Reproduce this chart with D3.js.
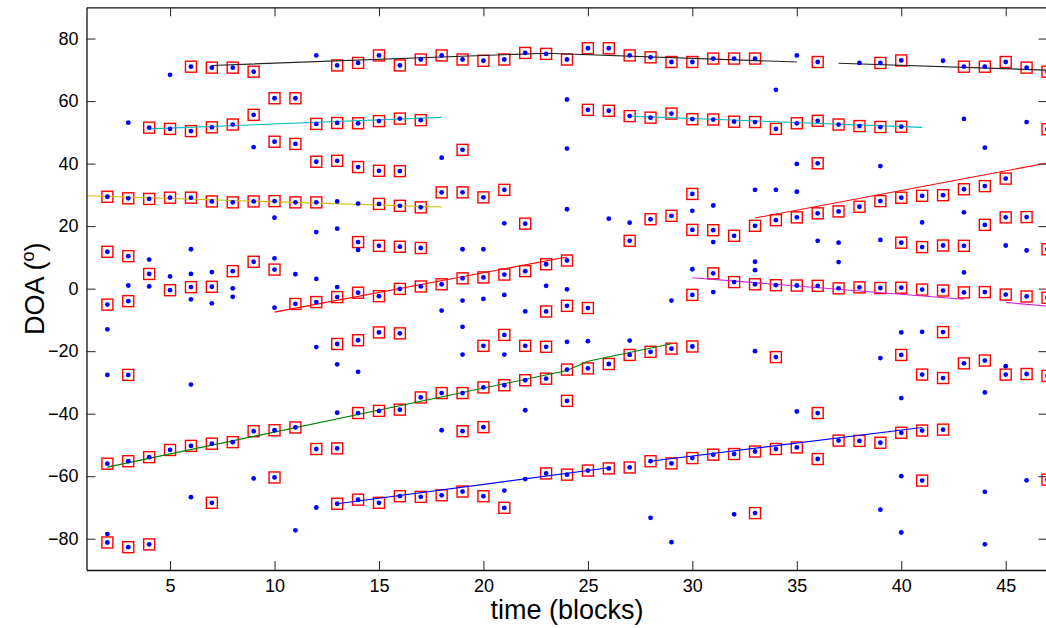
<!DOCTYPE html>
<html>
<head>
<meta charset="utf-8">
<script src="https://cdn.jsdelivr.net/npm/d3@7"></script>
<style>
body { margin: 0; background: #fff; }
svg { display: block; font-family: "Liberation Sans", Arial, sans-serif; }
</style>
</head>
<body>
<script>
// time blocks and the DOA estimates (degrees)
var timeBlocks = [2,3,4,5,6,7,8,9,10,11,12,13,14,15,16,17,18,19,20,21,22,23,24,25,26,27,28,29,30,31,32,33,34,35,36,37,38,39,40,41,42,43,44,45,46,47];

// estimates kept by the tracker (red square + blue dot)
var keptDOA = [
  [29.4, 11.8, -5.1, -56, -81.2],
  [28.9, 10.4, -4.0, -27.6, -55.2, -82.7],
  [51.5, 28.7, 4.7, -53.9, -81.8],
  [51.1, 29.1, -0.5, -51.6],
  [71.0, 50.4, 29.1, 0.5, -50.3],
  [70.7, 51.6, 27.9, 0.6, -49.6, -68.5],
  [70.7, 52.5, 27.6, 5.6, -49.1],
  [69.4, 55.6, 27.9, 8.6, -45.6],
  [60.9, 47.0, 28.0, 6.1, -45.3, -60.4],
  [60.9, 46.3, 27.6, -4.9, -44.4],
  [52.7, 40.6, 27.6, -4.3, -51.3],
  [71.4, 53.0, 40.9, -2.7, -17.7, -51.1, -68.8],
  [72.2, 52.9, 38.9, 14.9, -1.3, -16.5, -39.8, -67.5],
  [74.6, 53.6, 37.7, 27.1, 13.7, -2.4, -14.0, -39.1, -68.5],
  [71.4, 54.4, 37.6, 26.5, 13.4, -0.1, -14.3, -38.7, -66.4],
  [73.3, 53.9, 26.0, 13.0, 0.7, -34.8, -66.6],
  [74.6, 30.8, 1.4, -33.4, -66.1],
  [73.3, 44.4, 30.8, 3.3, -33.4, -45.6, -64.9],
  [72.9, 29.2, 3.6, -18.3, -31.6, -44.3, -66.4],
  [73.3, 31.6, 4.5, -14.8, -30.9, -70.1],
  [75.4, 20.8, 5.6, -18.3, -29.3],
  [75.1, 7.8, -7.3, -18.6, -28.8, -59.1],
  [73.3, 9.0, -5.5, -25.9, -35.9, -59.5],
  [76.9, 57.2, -6.2, -25.5, -58.2],
  [76.9, 56.9, -24.1, -57.5],
  [74.6, 55.2, 15.3, -21.2, -57.2],
  [74.0, 54.7, 22.2, -20.2, -55.2],
  [72.5, 56.0, 23.3, -19.2, -55.9],
  [72.5, 54.2, 30.3, 18.8, -2.0, -18.5, -54.2],
  [73.6, 54.1, 18.7, 4.9, -53.1],
  [73.6, 53.4, 16.9, 2.1, -52.9],
  [73.6, 53.3, 20.1, 1.4, -52.1, -71.8],
  [51.1, 21.9, 1.1, -21.9, -51.3],
  [52.9, 22.8, 1.0, -50.8],
  [72.5, 53.7, 40.1, 24.1, 0.9, -39.8, -54.5],
  [52.5, 24.7, 0.1, -48.6],
  [52.0, 26.2, 0.4, -48.7],
  [72.2, 51.7, 28.0, 0.2, -49.3],
  [73.0, 51.8, 29.1, 14.7, 0.3, -21.2, -46.1],
  [29.7, 13.3, -0.3, -27.5, -45.4, -61.4],
  [29.9, 13.8, -0.6, -13.9, -28.6, -45.1],
  [71.0, 31.8, 13.7, -1.2, -23.9],
  [71.0, 32.8, 20.4, -1.1, -23.0],
  [72.5, 35.2, 22.8, -1.9, -27.5],
  [70.7, 22.9, -2.5, -27.3],
  [69.4, 51.0, 12.6, -2.9, -27.9, -61.1]
];

// other raw estimates (blue dot only)
var rawDOA = [
  [-13, -27.6, -78.5],
  [53.1, 1.0],
  [9.3, 0.7],
  [68.4, 3.9],
  [12.6, 4.7, -3.4, -30.7, -66.7],
  [5.3, -4.7],
  [0.1, -2.6],
  [45.3, -60.7],
  [22.7, 9.7, -6.1],
  [4.6, -77.3],
  [74.6, 18.1, 3.1, -18.7, -70.0],
  [27.9, 19.2, 0.5, -24.2, -39.7],
  [27.2, 12.4, -26.6],
  [],
  [],
  [],
  [41.9, -7.0, -45.3],
  [12.6, -3.8, -12.2, -21.1],
  [12.6, -3.3],
  [20.9, -2.0, -21.1, -64.6],
  [-7.3, -38.9, -60.9],
  [0.9],
  [60.5, 44.8, 25.4, -0.2, -17.0],
  [-16.8],
  [22.4],
  [21.1, -16.6],
  [-73.3],
  [-3.8, -81.1],
  [24.9, 6.2],
  [26.6, 14.9, -1.1],
  [-72.2],
  [31.6, 8.6, 5.9, -20.0],
  [63.6, 31.6],
  [74.6, 39.9, 31.0, -39.3],
  [15.3],
  [14.7, 8.5],
  [72.2],
  [39.2, 15.6, -22.2, -70.7],
  [-14.0, -35.0, -60.0, -78.0],
  [21.2, -13.8],
  [72.9],
  [54.3, 24.4, 5.2],
  [45.1, -33.2, -65.0, -81.8],
  [13.8, -24.8],
  [53.3, 12.2, -61.3],
  []
];

// tracks: [time, DOA] vertices
var trackBlackA = [[7, 71.4], [23, 75.3], [35, 72.5]];
var trackBlackB = [[37, 72.1], [47, 69.9]];
var trackCyanA = [[4, 51.1], [18, 54.8]];
var trackCyanB = [[27, 55.2], [41, 51.6]];
var trackYellow = [[1, 29.7], [18, 26.1]];
var trackRedA = [[10, -7.5], [24, 10.1]];
var trackRedB = [[33, 22.6], [47, 40.2]];
var trackMagentaA = [[30, 3.5], [43, -3.4]];
var trackMagentaB = [[45, -4.4], [47, -5.6]];
var trackGreen = [[2, -57.1], [24, -26.2], [25, -23.2], [29, -17.6]];
var trackBlueA = [[13, -68.8], [26, -57.3]];
var trackBlueB = [[28, -55.2], [41, -44.4]];

var tracks = [trackBlackA, trackBlackB, trackCyanA, trackCyanB, trackYellow, trackRedA, trackRedB,
              trackMagentaA, trackMagentaB, trackGreen, trackBlueA, trackBlueB];
var trackColors = ["#222", "#222", "#00bcbc", "#00bcbc", "#c8c000", "#ff0000", "#ff0000",
                   "#d020d0", "#d020d0", "#008000", "#0000ff", "#0000ff"];

var xTicks = [5, 10, 15, 20, 25, 30, 35, 40, 45];
var yTicks = [-80, -60, -40, -20, 0, 20, 40, 60, 80];

var svgWidth = 1046, svgHeight = 628;
var plotLeft = 86.5, plotRight = 1047.5, plotTop = 7.3, plotBottom = 570;

var svg = d3.select("body").append("svg")
    .attr("width", svgWidth)
    .attr("height", svgHeight);

var x = d3.scaleLinear().domain([1, 47]).range([plotLeft, plotRight]);
var y = d3.scaleLinear().domain([-90, 90]).range([plotBottom, plotTop]);

svg.append("clipPath").attr("id", "plotclip")
  .append("rect")
    .attr("x", plotLeft).attr("y", plotTop)
    .attr("width", plotRight - plotLeft).attr("height", plotBottom - plotTop);

// flatten to points
var kept = [], raw = [];
timeBlocks.forEach(function(t, i) {
    keptDOA[i].forEach(function(v) { kept.push({t: t, v: v}); });
    rawDOA[i].forEach(function(v) { raw.push({t: t, v: v}); });
});

var plot = svg.append("g").attr("clip-path", "url(#plotclip)");

plot.selectAll("rect.kept")
    .data(kept)
  .enter().append("rect")
    .attr("class", "kept")
    .attr("x", function(d) { return x(d.t) - 5.5; })
    .attr("y", function(d) { return y(d.v) - 5.5; })
    .attr("width", 11)
    .attr("height", 11)
    .attr("fill", "none")
    .attr("stroke", "#ff0000")
    .attr("stroke-width", 1.4);

var line = d3.line()
    .x(function(d) { return x(d[0]); })
    .y(function(d) { return y(d[1]); });

plot.selectAll("path.track")
    .data(tracks)
  .enter().append("path")
    .attr("class", "track")
    .attr("fill", "none")
    .attr("stroke", function(d, i) { return trackColors[i]; })
    .attr("stroke-width", 1.1)
    .attr("d", line);

plot.selectAll("circle.dot")
    .data(kept.concat(raw))
  .enter().append("circle")
    .attr("class", "dot")
    .attr("cx", function(d) { return x(d.t); })
    .attr("cy", function(d) { return y(d.v); })
    .attr("r", 2.4)
    .attr("fill", "#0000ff");

// axes, matlab style box with inward ticks
var xAxis = d3.axisBottom(x).tickValues(xTicks).tickSize(-9).tickSizeOuter(0).tickPadding(9);
svg.append("g")
    .attr("transform", "translate(0," + plotBottom + ")")
    .call(xAxis);

svg.append("g")
    .attr("transform", "translate(0," + plotTop + ")")
    .call(d3.axisTop(x).tickValues(xTicks).tickSize(-9).tickSizeOuter(0).tickFormat(""));

var yAxis = d3.axisLeft(y).tickValues(yTicks).tickSize(-9).tickSizeOuter(0).tickPadding(8);
svg.append("g")
    .attr("transform", "translate(" + plotLeft + ",0)")
    .call(yAxis);

svg.append("g")
    .attr("transform", "translate(" + plotRight + ",0)")
    .call(d3.axisRight(y).tickValues(yTicks).tickSize(-9).tickSizeOuter(0).tickFormat(""));

svg.selectAll(".domain").attr("stroke", "#111").attr("stroke-width", 1.3);
svg.selectAll(".tick line").attr("stroke", "#222");
svg.selectAll(".tick text")
    .style("font-size", "18px")
    .style("font-family", "'Liberation Sans', Arial, sans-serif")
    .attr("fill", "#000");

svg.append("text")
    .attr("x", (plotLeft + plotRight) / 2)
    .attr("y", 619)
    .attr("text-anchor", "middle")
    .attr("font-size", 27)
    .text("time (blocks)");

var ylab = svg.append("text")
    .attr("transform", "translate(44," + ((plotTop + plotBottom) / 2) + ") rotate(-90)")
    .attr("text-anchor", "middle")
    .attr("font-size", 27);
ylab.append("tspan").text("DOA (");
ylab.append("tspan").attr("font-size", 18).attr("baseline-shift", "super").text("o");
ylab.append("tspan").text(")");
</script>
</body>
</html>
